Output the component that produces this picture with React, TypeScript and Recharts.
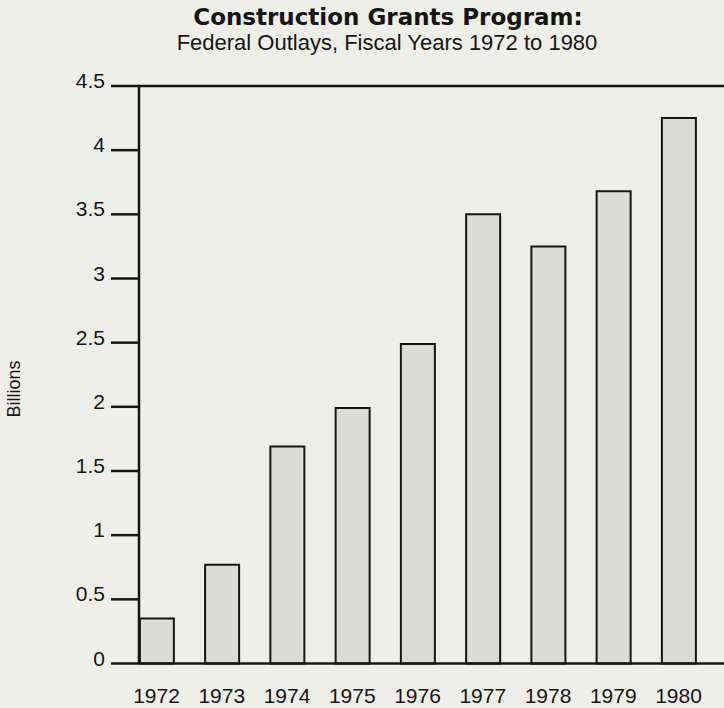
import React from "react"
import { Bar, BarChart, ReferenceLine, XAxis, YAxis } from "recharts"

const years = [1972, 1973, 1974, 1975, 1976, 1977, 1978, 1979, 1980]
const outlays = [0.35, 0.77, 1.69, 1.99, 2.49, 3.5, 3.25, 3.68, 4.25]
const yTicks = [0, 0.5, 1, 1.5, 2, 2.5, 3, 3.5, 4, 4.5]

const data = years.map((year, i) => ({ year, outlays: outlays[i] }))

const INK = "#151515"
const PAPER = "#efefe9"
const FONT = "'Liberation Sans', Arial, sans-serif"

function YTick({ x, y, payload }: any) {
  return (
    <text x={x} y={y + 2} textAnchor="end" fontSize={21} fontFamily={FONT} fill={INK}>
      {payload.value}
    </text>
  )
}

function XTick({ x, y, payload }: any) {
  return (
    <text x={x} y={y + 39} textAnchor="middle" fontSize={21} fontFamily={FONT} fill={INK}>
      {payload.value}
    </text>
  )
}

export default function App() {
  return (
    <div
      style={{
        position: "absolute",
        left: 0,
        top: 0,
        width: 724,
        height: 708,
        background: PAPER,
        overflow: "hidden",
      }}
    >
      <BarChart
        width={724}
        height={708}
        data={data}
        margin={{ top: 86, right: 0, bottom: 0, left: 0 }}
      >
        <XAxis
          dataKey="year"
          type="number"
          domain={[1971.732, 1980.697]}
          allowDataOverflow
          ticks={years}
          interval={0}
          height={44.5}
          tickSize={0}
          tickMargin={0}
          tickLine={false}
          axisLine={{ stroke: INK, strokeWidth: 2.5 }}
          tick={<XTick />}
        />
        <YAxis
          domain={[0, 4.5]}
          ticks={yTicks}
          interval={0}
          width={139}
          tickSize={28}
          tickMargin={6}
          tickLine={{ stroke: INK, strokeWidth: 2.5 }}
          axisLine={{ stroke: INK, strokeWidth: 2.5 }}
          tick={<YTick />}
        />
        <ReferenceLine y={4.5} stroke={INK} strokeWidth={2.5} />
        <Bar
          dataKey="outlays"
          barSize={34}
          fill="#dcdcd6"
          stroke={INK}
          strokeWidth={2}
          isAnimationActive={false}
        />
      </BarChart>
      <svg
        width={724}
        height={708}
        style={{ position: "absolute", left: 0, top: 0, pointerEvents: "none" }}
      >
        <text
          x={388}
          y={25}
          textAnchor="middle"
          fontSize={23}
          fontWeight="bold"
          fontFamily="'DejaVu Sans', sans-serif"
          fill={INK}
        >
          Construction Grants Program:
        </text>
        <text x={387} y={50} textAnchor="middle" fontSize={22} fontFamily={FONT} fill={INK}>
          Federal Outlays, Fiscal Years 1972 to 1980
        </text>
        <text
          x={0}
          y={0}
          transform="translate(20, 389) rotate(-90)"
          textAnchor="middle"
          fontSize={18}
          fontFamily={FONT}
          fill={INK}
        >
          Billions
        </text>
      </svg>
    </div>
  )
}
